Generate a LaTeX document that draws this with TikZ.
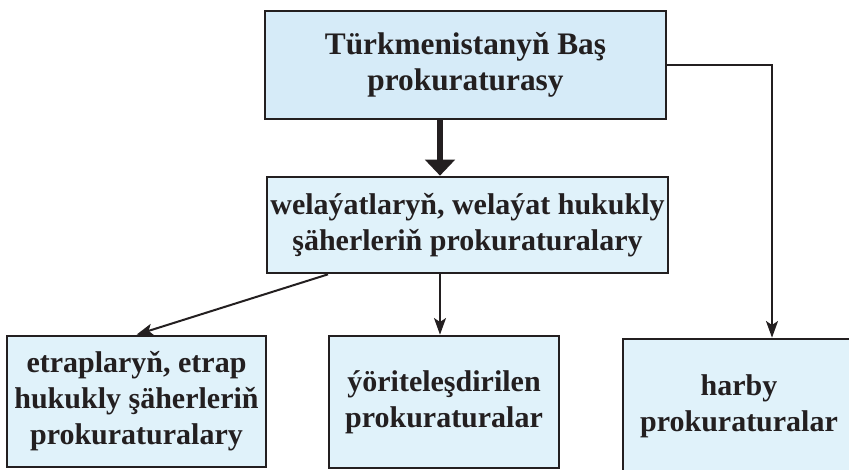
\documentclass[tikz,border=0pt]{standalone}
\usepackage{fontspec}
\setmainfont{Liberation Serif}
\usetikzlibrary{arrows.meta,calc}
\definecolor{topblue}{RGB}{214,235,248}
\definecolor{boxblue}{RGB}{224,242,250}
\definecolor{ink}{RGB}{35,31,32}

\begin{document}
\begin{tikzpicture}
        [x=0.75pt,y=-0.75pt]
            \tikzstyle{every node}=[rectangle, draw=ink, fill=boxblue,
        line width=2pt, inner sep=0pt, align=center, text=ink,
        font=\bfseries\fontsize{22.5}{27}\selectfont]
            \tikzstyle{link}=[draw=ink, line width=1.5pt,
        -{Stealth[length=12.5pt,width=9pt,inset=3pt]}]
        \useasboundingbox (0,0) rectangle (849,469);
        \clip (0,0) rectangle (849,469);
        %-----boxes
         \node[fill=topblue, minimum width=300.75pt, minimum height=81pt,
               font=\bfseries\fontsize{23.5}{27}\selectfont]  (bas) at (465.5,65) {Türkmenistanyň Baş\\prokuraturasy};
         \node[minimum width=300.75pt, minimum height=72pt]  (wel) at (467.5,225) {welaýatlaryň, welaýat hukukly\\şäherleriň prokuraturalary};
         \node[minimum width=194.25pt, minimum height=98.25pt]  (etr) at (136.5,401.5) {etraplaryň, etrap\\hukukly şäherleriň\\prokuraturalary};
         \node[minimum width=172.5pt, minimum height=99pt]  (yor) at (444,402) {ýöriteleşdirilen\\prokuraturalar};
         \node[minimum width=174pt, minimum height=101.25pt]  (har) at (739,406.5) {harby\\prokuraturalar};
        %-----connectors
         \coordinate (ax) at (440,0);
         \coordinate (dx) at (328,0);
         \coordinate (rx) at (772,0);

         \draw[draw=ink, line width=4pt, -{Triangle[length=12pt,width=22pt]}] (bas.south -| ax) -- (wel.north -| ax);
         \draw[link] (wel.south -| dx) -- (etr.north);
         \draw[link] (wel.south -| ax) -- (yor.north -| ax);
         \draw[link] (bas.east) -| (har.north -| rx);

        \end{tikzpicture}
\end{document}
